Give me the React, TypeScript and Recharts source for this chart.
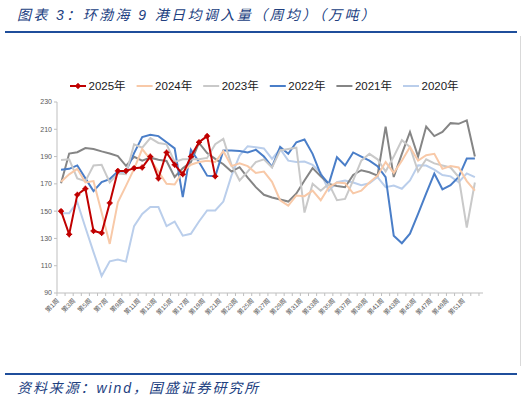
import { LineChart, Line, XAxis, YAxis } from 'recharts';

// 周次（第1周 ... 第52周）
const weeks = Array.from({ length: 52 }, (_, i) => `第${i + 1}周`);

// 日均调入量（万吨），按年份
const y2025 = [150, 133, 162, 166.5, 135.5, 134, 156, 179.5, 179.5, 181.5, 182, 190, 174, 193, 184, 177, 190, 200.5, 205, 175.5];
const y2024 = [171.5, 177, 181, 171, 172, 149, 126, 156.5, 168.5, 181, 195.5, 188, 179, 170, 169.5, 179, 184, 186, 187, 186, 194, 183, 185, 183, 178, 179, 171.5, 158, 154, 161.5, 161, 165, 158, 167.5, 171, 170.5, 163, 165, 171, 176, 186, 178, 187, 197, 187, 191, 192, 181, 183, 182, 172, 165];
const y2023 = [187.5, 188, 174, 172, 183.5, 184, 171, 177.5, 177, 199, 196.5, 203.5, 200, 199, 186, 188, 188, 188, 189, 199, 203, 184, 172.5, 179, 186, 188, 182, 194.5, 195.5, 196.5, 149, 170, 165, 170, 158, 159, 172.5, 187, 192, 188, 179, 190, 202, 197, 179, 188, 185, 183.5, 182, 175, 138, 171];
const y2022 = [180.3, 181, 183.5, 174, 164.7, 171.3, 173.5, 179, 179, 192.5, 204.3, 206, 205, 200.5, 196, 160.3, 195, 186, 176, 175.5, 194.5, 194.5, 194, 193, 195, 190, 182.5, 197, 192, 200.5, 202.5, 192, 177, 170, 189.5, 183.5, 193, 190, 187, 183, 175, 132, 126.5, 133.5, 148, 163, 177.5, 166, 169, 175, 188.5, 188.5];
const y2021 = [170.5, 192.2, 193.2, 196.2, 195.6, 193.8, 192.2, 190.3, 183.2, 189.8, 187, 189.2, 187.7, 186.8, 175, 181.5, 186, 200, 192.6, 188.3, 184.4, 179, 182.2, 174.5, 167.6, 162, 160, 158.5, 157, 163, 172.5, 181.5, 175.5, 170, 168.5, 167.5, 176.5, 180, 178.5, 176, 212, 175, 192, 208, 190, 212, 205, 208, 214.5, 214, 216.5, 190];
const y2020 = [148.5, 148.5, 156.6, 138, 120, 102.5, 113.2, 114.5, 113, 139, 148, 153, 153, 139, 142.4, 132, 133.4, 142.4, 150.5, 150.5, 157, 176, 190.7, 197.6, 196.8, 196, 188.3, 195.6, 187, 186, 186.3, 184, 178, 165, 171.2, 172.5, 171, 169, 170.4, 175, 167.6, 168.8, 166.4, 172.5, 183.7, 183.4, 180.4, 176.5, 175.5, 171.2, 177.7, 174.9];

const yTicks = [90, 110, 130, 150, 170, 190, 210, 230];

const legendOrder = [
  { key: 'y2025', name: '2025年', color: '#C00000' },
  { key: 'y2024', name: '2024年', color: '#F8C9A8' },
  { key: 'y2023', name: '2023年', color: '#C9C9C9' },
  { key: 'y2022', name: '2022年', color: '#4A7EC8' },
  { key: 'y2021', name: '2021年', color: '#858585' },
  { key: 'y2020', name: '2020年', color: '#BACEEB' },
];

const data = weeks.map((w, i) => ({
  idx: i,
  week: w,
  y2025: y2025[i] ?? null,
  y2024: y2024[i] ?? null,
  y2023: y2023[i] ?? null,
  y2022: y2022[i] ?? null,
  y2021: y2021[i] ?? null,
  y2020: y2020[i] ?? null,
}));

const W = 525;
const H = 399;
const PLOT_LEFT = 57;
const PLOT_RIGHT = 483;
const BAND = (PLOT_RIGHT - PLOT_LEFT) / weeks.length;
const BLUE = '#1F4E9B';
const TEXT_BLUE = '#21407F';
const AXIS = '#BFBFBF';
const FONT = '"Liberation Sans", "Noto Sans CJK SC", sans-serif';

function WeekTick(props: any) {
  const { x, y, payload } = props;
  const i = payload.value as number;
  const left = x - BAND / 2;
  const ax = x - 3;
  const ay = y + 6.5;
  return (
    <g>
      <line x1={left} x2={left} y1={y} y2={y + 3} stroke={AXIS} />
      {i === weeks.length - 1 && <line x1={x + BAND / 2} x2={x + BAND / 2} y1={y} y2={y + 3} stroke={AXIS} />}
      {i % 2 === 0 && (
        <text
          x={ax}
          y={ay}
          dy="0.35em"
          textAnchor="end"
          transform={`rotate(-45, ${ax}, ${ay})`}
          fontSize={6.5}
          fill="#595959"
          fontFamily={FONT}
        >
          {weeks[i]}
        </text>
      )}
    </g>
  );
}

function CrossDot(props: any) {
  const { cx, cy, index } = props;
  if (cx == null || cy == null) return <g key={`d-${index}`} />;
  return (
    <g key={`d-${index}`}>
      <circle cx={cx} cy={cy} r={2.3} fill="#C00000" />
      <line x1={cx - 3} x2={cx + 3} y1={cy} y2={cy} stroke="#C00000" strokeWidth={1.3} />
      <line x1={cx} x2={cx} y1={cy - 3} y2={cy + 3} stroke="#C00000" strokeWidth={1.3} />
    </g>
  );
}

function Legend() {
  return (
    <svg width={W} height={20} style={{ position: 'absolute', left: 0, top: 76 }}>
      {legendOrder.map((s, k) => {
        const x0 = 70 + k * 66.6;
        return (
          <g key={s.key}>
            <line x1={x0} x2={x0 + 16} y1={10} y2={10} stroke={s.color} strokeWidth={2} />
            {k === 0 && (
              <g>
                <circle cx={x0 + 8} cy={10} r={2.3} fill="#C00000" />
                <line x1={x0 + 8} x2={x0 + 8} y1={7} y2={13} stroke="#C00000" strokeWidth={1.3} />
              </g>
            )}
            <text x={x0 + 18.5} y={10} dy="0.36em" fontSize={11.5} fill="#1a1a1a" fontFamily={FONT}>
              {s.name}
            </text>
          </g>
        );
      })}
    </svg>
  );
}

export default function App() {
  return (
    <div style={{ position: 'absolute', left: 0, top: 0, width: W, height: H, background: '#fff', overflow: 'hidden' }}>
      <div
        style={{
          position: 'absolute',
          left: 17,
          top: 4,
          fontSize: 14,
          letterSpacing: 2.4,
          fontStyle: 'italic',
          color: TEXT_BLUE,
          fontFamily: FONT,
          whiteSpace: 'nowrap',
        }}
      >
        图表 3：环渤海 9 港日均调入量（周均）（万吨）
      </div>
      <div style={{ position: 'absolute', left: 5, top: 31, width: 512, height: 2, background: BLUE }} />
      <div style={{ position: 'absolute', left: 520, top: 36, width: 1, height: 330, background: '#D9D9D9' }} />
      <div style={{ position: 'absolute', left: 0, top: 0 }}>
        <LineChart width={W} height={H} data={data} margin={{ top: 102, right: W - PLOT_RIGHT, bottom: 76, left: 0 }}>
          <XAxis
            dataKey="idx"
            type="number"
            domain={[-0.5, weeks.length - 0.5]}
            ticks={data.map((d) => d.idx)}
            interval={0}
            height={30}
            stroke={AXIS}
            tickLine={false}
            tickSize={0}
            tickMargin={0}
            tick={<WeekTick />}
            allowDecimals={false}
          />
          <YAxis
            domain={[90, 230]}
            ticks={yTicks}
            width={PLOT_LEFT}
            stroke={AXIS}
            tickSize={3}
            tickMargin={2}
            tick={{ fontSize: 7, fill: '#595959', fontFamily: FONT }}
            allowDataOverflow
          />
          {[...legendOrder].reverse().map((s) => (
            <Line
              key={s.key}
              type="linear"
              dataKey={s.key}
              name={s.name}
              stroke={s.color}
              strokeWidth={2}
              dot={s.key === 'y2025' ? CrossDot : false}
              activeDot={false}
              isAnimationActive={false}
            />
          ))}
        </LineChart>
      </div>
      <Legend />
      <div style={{ position: 'absolute', left: 5, top: 373, width: 512, height: 2, background: BLUE }} />
      <div
        style={{
          position: 'absolute',
          left: 17,
          top: 377,
          fontSize: 14,
          letterSpacing: 1.9,
          fontStyle: 'italic',
          color: TEXT_BLUE,
          fontFamily: FONT,
          whiteSpace: 'nowrap',
        }}
      >
        资料来源：wind，国盛证券研究所
      </div>
    </div>
  );
}
